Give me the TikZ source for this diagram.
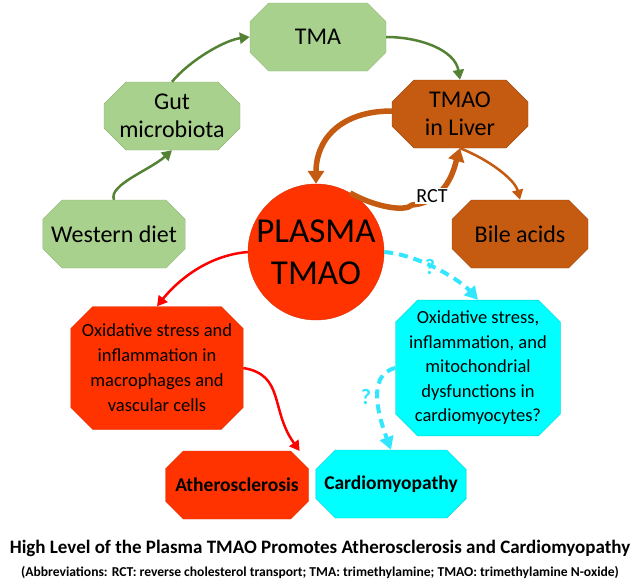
\documentclass[tikz,border=0pt]{standalone}
\usepackage{fontspec}
\setmainfont{Carlito}
\usetikzlibrary{shapes.misc,arrows.meta}
\definecolor{lg}{HTML}{A9D18E}
\definecolor{lgb}{HTML}{8DB573}
\definecolor{br}{HTML}{C55A11}
\definecolor{rd}{HTML}{FF3300}
\definecolor{cy}{HTML}{00FFFF}
\definecolor{cya}{HTML}{33E6FF}
\definecolor{gr}{HTML}{548235}
\begin{document}
\begin{tikzpicture}[x=1pt,y=-1pt,
 box/.style={chamfered rectangle,chamfered rectangle xsep=11pt,chamfered rectangle ysep=11pt,minimum width=136pt,minimum height=68pt,inner sep=0pt,align=center,font=\fontsize{24}{28}\selectfont},
 gbox/.style={box,fill=lg,draw=lgb},
 bbox/.style={box,fill=br,draw=br!80!black},
 rbox/.style={box,fill=rd,draw=rd!85!black},
 cbox/.style={box,fill=cy,draw=cy!80!black},
 garr/.style={draw=gr,line width=2.5pt,-{Triangle[length=10pt,width=11pt]}},
 barr/.style={draw=br,line width=2.5pt,-{Triangle[length=10pt,width=11pt]}},
 bthick/.style={draw=br,line width=5.5pt,-{Triangle[length=13pt,width=16pt]}},
 rarr/.style={draw=red,line width=2.5pt,-{Triangle[length=10pt,width=11pt]}},
 carr/.style={draw=cya,line width=4pt,dash pattern=on 9pt off 6pt,-{Triangle[length=13pt,width=14pt]}},
 q/.style={font=\bfseries\fontsize{22}{24}\selectfont,text=cya}]
\useasboundingbox (0,0) rectangle (640,582);
\node[gbox] (tma) at (318,37) {TMA};
\node[gbox] (gut) at (172,116) {Gut\\microbiota};
\node[gbox] (wd) at (114,234) {Western diet};
\node[bbox] (liv) at (460,114) {TMAO\\in Liver};
\node[bbox] (bile) at (520,234) {Bile acids};
\node[circle,fill=rd,draw=rd!85!black,minimum size=136pt,inner sep=0pt,align=center,font=\fontsize{35}{42}\selectfont] (pl) at (316,252) {PLASMA\\TMAO};
\node[rbox,minimum width=164pt,minimum height=123pt,font=\fontsize{18.5}{25}\selectfont] (ox) at (157,368) {Oxidative stress and\\inflammation in\\macrophages and\\vascular cells};
\node[cbox,minimum width=165pt,minimum height=123pt,font=\fontsize{18.5}{24.5}\selectfont] (oxc) at (478,368) {Oxidative stress,\\inflammation, and\\mitochondrial\\dysfunctions in\\cardiomyocytes?};
\node[rbox,minimum width=143pt,font=\bfseries\fontsize{19.5}{24}\selectfont] (ath) at (237,485) {Atherosclerosis};
\node[cbox,minimum width=143pt,font=\bfseries\fontsize{19.5}{24}\selectfont] (card) at (391,484) {Cardiomyopathy};
\node[font=\bfseries\fontsize{19}{22}\selectfont] (t1) at (320,548) {High Level of the Plasma TMAO Promotes Atherosclerosis and Cardiomyopathy};
\node[font=\bfseries\fontsize{13.6}{16}\selectfont] (t2) at (320,573) {(Abbreviations: RCT: reverse cholesterol transport; TMA: trimethylamine; TMAO: trimethylamine N-oxide)};
\draw[garr] (wd.north) .. controls (108,185) and (150,170) .. (gut.south);
\draw[garr] (gut.north) .. controls (190,60) and (225,40) .. (tma.west);
\draw[garr] (tma.east) .. controls (420,37) and (455,50) .. (liv.north);
\draw[bthick] (liv.west |- 0,111) .. controls (340,111) and (316,140) .. (pl.north);
\draw[bthick] (pl.60) .. controls (375,207) and (405,212) .. (412,205) .. controls (448,202) and (455,165) .. (liv.south);
\node[font=\fontsize{20}{22}\selectfont,fill=white,inner sep=1pt] (rct) at (432,196) {RCT};
\draw[barr] (liv.south) .. controls (490,160) and (515,180) .. (bile.north);
\draw[rarr] (pl.west) .. controls (200,256) and (170,290) .. (ox.north);
\draw[carr] (pl.east) .. controls (420,255) and (460,280) .. (oxc.north);
\node[q] (q1) at (430,267) {?};
\draw[rarr] (ox.east |- 0,368) .. controls (285,375) and (270,410) .. (ath.north east |- 0,451) ;
\draw[carr] (oxc.west) .. controls (365,375) and (380,420) .. (card.north);
\node[q] (q2) at (366,397) {?};
\end{tikzpicture}
\end{document}
